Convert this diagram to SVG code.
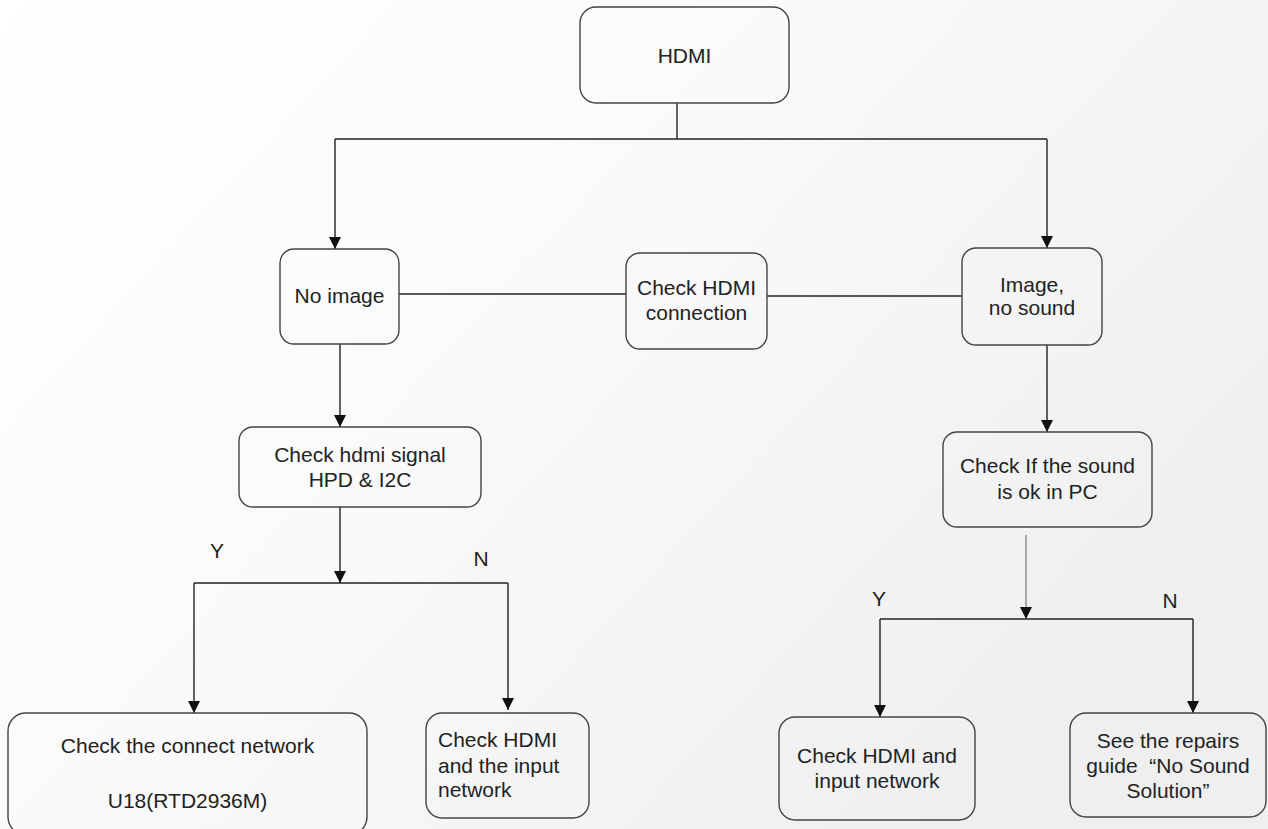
<svg xmlns="http://www.w3.org/2000/svg" width="1268" height="829" viewBox="0 0 1268 829">
  <defs>
    <linearGradient id="bg" x1="0" y1="0" x2="1" y2="0.6">
      <stop offset="0" stop-color="#ffffff"/>
      <stop offset="0.45" stop-color="#fafafa"/>
      <stop offset="1" stop-color="#efefef"/>
    </linearGradient>
    <marker id="arrow" markerUnits="userSpaceOnUse" markerWidth="12" markerHeight="12" viewBox="0 0 12 12" refX="12" refY="6" orient="auto">
      <path d="M0,0 L12,6 L0,12 Z" fill="#111"/>
    </marker>
  </defs>
  <style>
    .box { fill: none; stroke: #444; stroke-width: 1.4; }
    .lbl { font-family: "Liberation Sans", Arial, sans-serif; font-size: 21px; fill: #222; text-anchor: middle; }
    .left { text-anchor: start; }
    .wire { fill: none; stroke: #222; stroke-width: 1.4; }
    .soft { stroke: #8a8a8a; }
  </style>
  <rect width="1268" height="829" fill="url(#bg)"/>

  <g id="connectors">
    <path class="wire" d="M677,103 V139"/>
    <path class="wire" d="M335,139 H1047"/>
    <path class="wire" d="M335,139 V249" marker-end="url(#arrow)"/>
    <path class="wire" d="M1047,139 V248" marker-end="url(#arrow)"/>
    <path class="wire" d="M399,294 H626"/>
    <path class="wire" d="M767,296 H962"/>
    <path class="wire" d="M340,344 V427" marker-end="url(#arrow)"/>
    <path class="wire" d="M340,507 V583" marker-end="url(#arrow)"/>
    <path class="wire" d="M194,583 H508"/>
    <path class="wire" d="M194,583 V713" marker-end="url(#arrow)"/>
    <path class="wire" d="M508,583 V710" marker-end="url(#arrow)"/>
    <path class="wire" d="M1047,345 V432" marker-end="url(#arrow)"/>
    <path class="wire soft" d="M1026,535 V619" marker-end="url(#arrow)"/>
    <path class="wire" d="M880,619 H1193"/>
    <path class="wire" d="M880,619 V717" marker-end="url(#arrow)"/>
    <path class="wire" d="M1193,619 V713" marker-end="url(#arrow)"/>
  </g>

  <g id="lbl-yn">
    <text class="lbl" x="217" y="558">Y</text>
    <text class="lbl" x="481" y="566">N</text>
    <text class="lbl" x="879" y="606">Y</text>
    <text class="lbl" x="1170" y="608">N</text>
  </g>

  <g id="n-hdmi">
    <rect class="box" x="580" y="7" width="209" height="96" rx="16"/>
    <text class="lbl" x="684.5" y="63">HDMI</text>
  </g>
  <g id="n-noimage">
    <rect class="box" x="280" y="249" width="119" height="95" rx="14"/>
    <text class="lbl" x="339.5" y="303">No image</text>
  </g>
  <g id="n-checkconn">
    <rect class="box" x="626" y="253" width="141" height="96" rx="14"/>
    <text class="lbl" x="696.5" y="295">Check HDMI</text>
    <text class="lbl" x="696.5" y="320">connection</text>
  </g>
  <g id="n-imagenosound">
    <rect class="box" x="962" y="248" width="140" height="97" rx="14"/>
    <text class="lbl" x="1032" y="292">Image,</text>
    <text class="lbl" x="1032" y="315">no sound</text>
  </g>
  <g id="n-hpd">
    <rect class="box" x="239" y="427" width="242" height="80" rx="14"/>
    <text class="lbl" x="360" y="462">Check hdmi signal</text>
    <text class="lbl" x="360" y="487">HPD &amp; I2C</text>
  </g>
  <g id="n-pcsound">
    <rect class="box" x="943" y="432" width="209" height="95" rx="14"/>
    <text class="lbl" x="1047.5" y="473">Check If the sound</text>
    <text class="lbl" x="1047.5" y="499">is ok in PC</text>
  </g>
  <g id="n-network">
    <rect class="box" x="8" y="713" width="359" height="122" rx="18"/>
    <text class="lbl" x="187.5" y="753">Check the connect network</text>
    <text class="lbl" x="187.5" y="808">U18(RTD2936M)</text>
  </g>
  <g id="n-hdmiinput">
    <rect class="box" x="426" y="713" width="163" height="105" rx="16"/>
    <text class="lbl left" x="438" y="747">Check HDMI</text>
    <text class="lbl left" x="438" y="773">and the input</text>
    <text class="lbl left" x="438" y="797">network</text>
  </g>
  <g id="n-hdmiinput2">
    <rect class="box" x="779" y="717" width="196" height="103" rx="16"/>
    <text class="lbl" x="877" y="763">Check HDMI and</text>
    <text class="lbl" x="877" y="788">input network</text>
  </g>
  <g id="n-repairs">
    <rect class="box" x="1070" y="713" width="196" height="104" rx="16"/>
    <text class="lbl" x="1168" y="748">See the repairs</text>
    <text class="lbl" x="1168" y="773" xml:space="preserve">guide  “No Sound</text>
    <text class="lbl" x="1168" y="798">Solution”</text>
  </g>
</svg>
